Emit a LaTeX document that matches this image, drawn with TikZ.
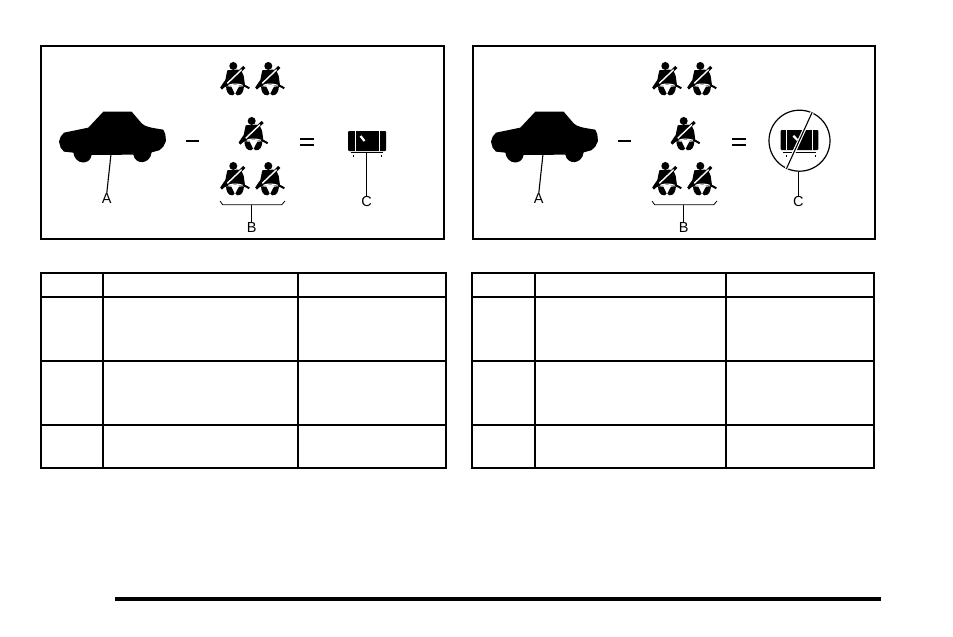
\documentclass[tikz,border=0pt]{standalone}
\usepackage{fontspec}
\setmainfont{Liberation Sans}
\tikzset{
  x=1pt,y=-1pt,
  frame/.style={draw=black,line width=1.6pt,fill=white},
  rule/.style={draw=black,line width=1.7pt},
  lead/.style={draw=black,line width=1.1pt},
  lbl/.style={font=\fontsize{14.5}{15}\selectfont,inner sep=0pt,text=black},
  seat/.pic={
    \begin{scope}[scale=0.3333,shift={(-100,-100)}]
      \fill (100,63) circle (12);
      % torso and arm
      \fill (82,76) -- (114,74) .. controls (125,77) and (129,84) .. (131,92) -- (135,120) -- (80,120) -- (66,134) -- (61,127) -- (76,105) -- cycle;
      % lap belt
      \draw[line width=2pt] (63,130) .. controls (85,112) and (122,112) .. (148,130);
      % legs
      \fill (78,124) .. controls (79,141) and (85,152) .. (98,151) -- (104,146) -- (94,125) -- cycle;
      \fill (132,124) .. controls (131,141) and (125,152) .. (112,151) -- (106,146) -- (117,125) -- cycle;
      \draw[white,line width=1.1pt] (85,121) .. controls (95,116) and (115,116) .. (128,121);
      % belt
      \draw[black,line width=3pt] (80,117) -- (133,66);
      \draw[white,line width=1.4pt] (82,115) -- (125,74);
    \end{scope}
  },
  panel/.pic={
    \begin{scope}[shift={(40,45)},scale=0.3333]
      \fill (57,290) -- (62,275) -- (72,263) -- (145,248) -- (190,200) -- (275,200)
      -- (305,235) .. controls (315,245) and (330,248) .. (370,254) -- (376,268) -- (378,288) -- (370,305) -- (358,316) -- (335,322)
      .. controls (330,360) and (285,360) .. (280,329) -- (155,330)
      .. controls (150,362) and (105,360) .. (100,323) -- (72,320) -- (62,308) -- cycle;
    \end{scope}
    \pic at (233.3,78.3) {seat};
    \pic at (268.3,78.3) {seat};
    \pic at (251.7,133.3) {seat};
    \pic at (233.3,178.3) {seat};
    \pic at (268.3,178.3) {seat};
    % minus, equals
    \fill (185.7,140.4) rectangle (198.7,142.2);
    \fill (300,138.3) rectangle (314,140.3);
    \fill (300,143.5) rectangle (314,145.5);
    % brace
    \draw[line width=0.8pt] (220,201) -- (222.7,204.8) -- (281.7,204.8) -- (285,201);
    % labels and leaders
    \node[lbl] (a) at (106.7,199) {A};
    \node[lbl] (b) at (251.7,227.5) {B};
    \coordinate (carbase) at (111,154);
    \coordinate (bracemid) at (251.7,204.8);
    \draw[lead] (carbase) -- (a.north);
    \draw[lead] (bracemid) -- (b.north);
  }
}
\newcommand{\tablegrid}[4]{%
  \draw[rule] (#1,273) rectangle (#2,468);
  \draw[rule] (#1,297) -- (#2,297);
  \draw[rule] (#1,361) -- (#2,361);
  \draw[rule] (#1,425) -- (#2,425);
  \draw[rule] (#3,273) -- (#3,468);
  \draw[rule] (#4,273) -- (#4,468);
}
\begin{document}
\begin{tikzpicture}
\useasboundingbox (0,0) rectangle (953,637);
\fill[white] (0,0) rectangle (953,637);
\path[frame] (41,46) rectangle (444,239);
\path[frame] (473,46) rectangle (875,239);
% left panel
\pic (pl) at (0,0) {panel};
% airbag on
\fill[rounded corners=1pt] (348,131) rectangle (386,151);
\draw[white,line width=0.8pt] (355.7,131) -- (355.7,151);
\draw[white,line width=0.8pt] (379.3,131) -- (379.3,151);
\draw[white,line width=2.2pt] (360.5,136) -- (364.5,141);
\draw[black,line width=0.8pt] (350.7,152.6) -- (383.3,152.6);
\fill (352.8,155) rectangle (353.8,156.5);
\fill (380.5,155) rectangle (381.5,156.5);
\coordinate (bagl) at (366.7,152.6);
\node[lbl] (cl) at (366.7,201.7) {C};
\draw[lead] (bagl) -- (cl.north);
% right panel
\pic (pr) at (432,0) {panel};
\node[draw=black,line width=1.2pt,circle,minimum size=61pt,inner sep=0pt] (ring) at (799.5,140.7) {};
\fill[rounded corners=1pt] (780.7,130) rectangle (818.3,150);
\draw[white,line width=0.8pt] (786.7,130) -- (786.7,150);
\draw[white,line width=0.8pt] (812.3,130) -- (812.3,150);
\draw[white,line width=2.2pt] (793.3,135.7) -- (797.3,140);
\draw[black,line width=0.8pt] (783.3,152) -- (816,152);
\fill (785.5,155) rectangle (786.5,156.5);
\fill (814.5,155) rectangle (815.5,156.5);
\draw[white,line width=3.4pt] (ring.66) -- (ring.245);
\draw[black,line width=1.1pt] (ring.66) -- (ring.245);
\node[lbl] (cr) at (798.3,201.7) {C};
\draw[lead] (ring.south -| cr.north) -- (cr.north);
% tables
\tablegrid{41}{446}{103}{298}
\tablegrid{472}{874}{535}{726}
% rule at foot
\fill (115,596.5) rectangle (881,600.5);
\end{tikzpicture}
\end{document}
